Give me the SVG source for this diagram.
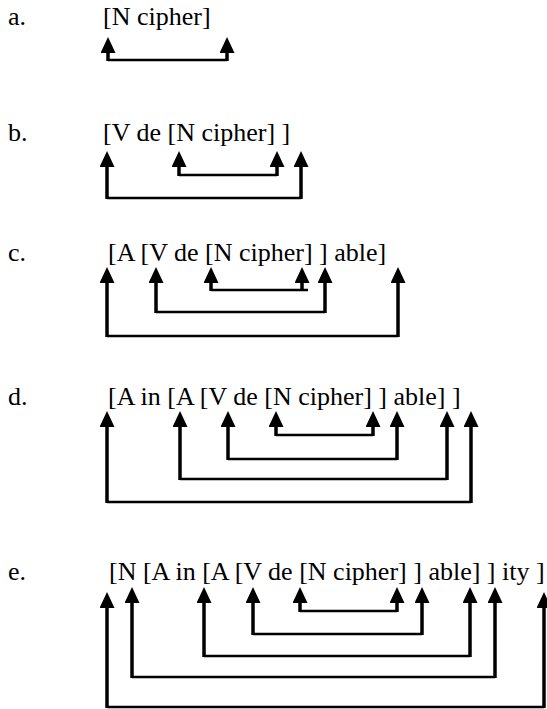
<svg xmlns="http://www.w3.org/2000/svg" width="547" height="709" viewBox="0 0 547 709">
<style>
.v{stroke:#000;stroke-width:3.5;fill:none}
.h{stroke:#000;stroke-width:2.5;fill:none}
</style>
<defs>
<marker id="ah" markerUnits="userSpaceOnUse" markerWidth="17" markerHeight="16" refX="0" refY="7.5" orient="auto" viewBox="0 0 17 16">
<path d="M0,0 L16,7.5 L0,15 z" fill="#000"/>
</marker>
</defs>
<g id="row-a" font-family="Liberation Serif" font-size="26" fill="#000"><text x="8" y="25">a.</text><text x="103" y="25">[N cipher]</text></g>
<g id="row-b" font-family="Liberation Serif" font-size="26" fill="#000"><text x="8" y="141">b.</text><text x="103" y="141">[V de [N cipher] ]</text></g>
<g id="row-c" font-family="Liberation Serif" font-size="26" fill="#000"><text x="8" y="261">c.</text><text x="108" y="261">[A [V de [N cipher] ] able]</text></g>
<g id="row-d" font-family="Liberation Serif" font-size="26" fill="#000"><text x="8" y="405">d.</text><text x="108" y="405">[A in [A [V de [N cipher] ] able] ]</text></g>
<g id="row-e" font-family="Liberation Serif" font-size="26" fill="#000"><text x="8" y="580">e.</text><text x="109" y="580">[N [A in [A [V de [N cipher] ] able] ] ity ]</text></g>
<g id="connectors">
<line class="v" x1="108" y1="61" x2="108" y2="53" marker-end="url(#ah)"/>
<line class="v" x1="227" y1="61" x2="227" y2="53" marker-end="url(#ah)"/>
<line class="h" x1="108" y1="60" x2="227" y2="60"/>
<line class="v" x1="179" y1="176" x2="179" y2="167" marker-end="url(#ah)"/>
<line class="v" x1="277" y1="176" x2="277" y2="167" marker-end="url(#ah)"/>
<line class="h" x1="179" y1="175" x2="277" y2="175"/>
<line class="v" x1="107" y1="199" x2="107" y2="167" marker-end="url(#ah)"/>
<line class="v" x1="301" y1="199" x2="301" y2="167" marker-end="url(#ah)"/>
<line class="h" x1="107" y1="198" x2="301" y2="198"/>
<line class="v" x1="211" y1="291" x2="211" y2="283" marker-end="url(#ah)"/>
<line class="v" x1="302" y1="291" x2="302" y2="283" marker-end="url(#ah)"/>
<line class="h" x1="211" y1="290" x2="308" y2="290"/>
<line class="v" x1="156" y1="313" x2="156" y2="283" marker-end="url(#ah)"/>
<line class="v" x1="325" y1="313" x2="325" y2="283" marker-end="url(#ah)"/>
<line class="h" x1="156" y1="312" x2="325" y2="312"/>
<line class="v" x1="107" y1="337" x2="107" y2="283" marker-end="url(#ah)"/>
<line class="v" x1="398" y1="337" x2="398" y2="283" marker-end="url(#ah)"/>
<line class="h" x1="107" y1="336" x2="398" y2="336"/>
<line class="v" x1="276" y1="436" x2="276" y2="427" marker-end="url(#ah)"/>
<line class="v" x1="373" y1="436" x2="373" y2="427" marker-end="url(#ah)"/>
<line class="h" x1="276" y1="435" x2="373" y2="435"/>
<line class="v" x1="228" y1="460" x2="228" y2="427" marker-end="url(#ah)"/>
<line class="v" x1="397" y1="460" x2="397" y2="427" marker-end="url(#ah)"/>
<line class="h" x1="228" y1="459" x2="397" y2="459"/>
<line class="v" x1="180" y1="480" x2="180" y2="427" marker-end="url(#ah)"/>
<line class="v" x1="447" y1="480" x2="447" y2="427" marker-end="url(#ah)"/>
<line class="h" x1="180" y1="479" x2="447" y2="479"/>
<line class="v" x1="107" y1="503" x2="107" y2="427" marker-end="url(#ah)"/>
<line class="v" x1="471" y1="503" x2="471" y2="427" marker-end="url(#ah)"/>
<line class="h" x1="107" y1="502" x2="471" y2="502"/>
<line class="v" x1="300" y1="612" x2="300" y2="603" marker-end="url(#ah)"/>
<line class="v" x1="397" y1="612" x2="397" y2="603" marker-end="url(#ah)"/>
<line class="h" x1="300" y1="611" x2="397" y2="611"/>
<line class="v" x1="253" y1="635" x2="253" y2="603" marker-end="url(#ah)"/>
<line class="v" x1="422" y1="635" x2="422" y2="603" marker-end="url(#ah)"/>
<line class="h" x1="253" y1="634" x2="422" y2="634"/>
<line class="v" x1="204" y1="657" x2="204" y2="603" marker-end="url(#ah)"/>
<line class="v" x1="470" y1="657" x2="470" y2="603" marker-end="url(#ah)"/>
<line class="h" x1="204" y1="656" x2="470" y2="656"/>
<line class="v" x1="132" y1="678" x2="132" y2="603" marker-end="url(#ah)"/>
<line class="v" x1="495" y1="678" x2="495" y2="603" marker-end="url(#ah)"/>
<line class="h" x1="132" y1="677" x2="495" y2="677"/>
<line class="v" x1="107" y1="708" x2="107" y2="608" marker-end="url(#ah)"/>
<line class="v" x1="544" y1="708" x2="544" y2="608" marker-end="url(#ah)"/>
<line class="h" x1="107" y1="707" x2="544" y2="707"/>
</g>
</svg>
